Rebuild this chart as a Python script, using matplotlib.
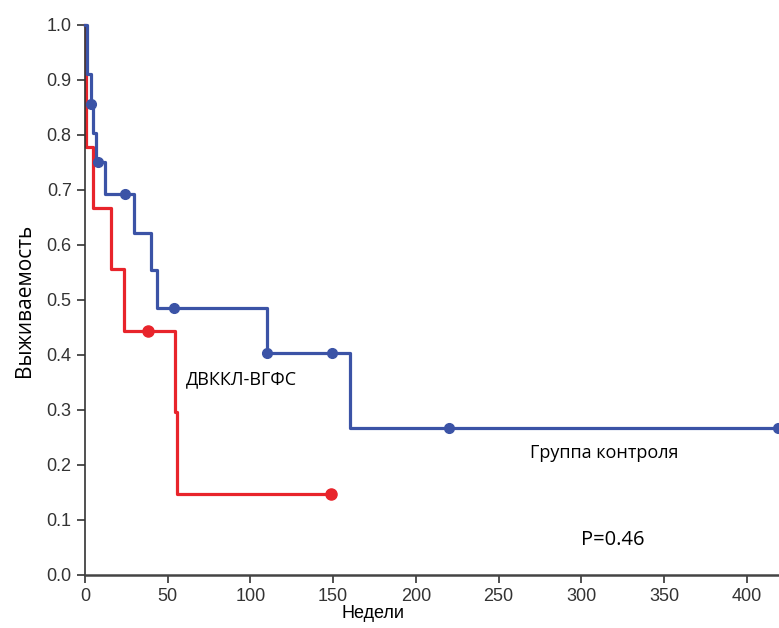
import matplotlib.pyplot as plt

# Kaplan-Meier step curves (weeks, survival)
ctrl_t = [0, 1.4, 3.4, 5, 7, 12, 29.6, 39.7, 43.7, 109.8, 160.5, 420]
ctrl_s = [1.0, 0.911, 0.857, 0.803, 0.750, 0.693, 0.622, 0.554, 0.485, 0.404, 0.268, 0.268]
ctrl_cens_t = [3.4, 8, 24, 54, 110, 149.5, 220, 419]
ctrl_cens_s = [0.857, 0.750, 0.693, 0.485, 0.404, 0.404, 0.268, 0.268]

dv_t = [0, 0.6, 5, 16, 23.6, 54.4, 55.8, 149]
dv_s = [1.0, 0.778, 0.667, 0.556, 0.444, 0.296, 0.148, 0.148]
dv_cens_t = [38, 149]
dv_cens_s = [0.444, 0.148]

xticks = [0, 50, 100, 150, 200, 250, 300, 350, 400]
yticks = [0.0, 0.1, 0.2, 0.3, 0.4, 0.5, 0.6, 0.7, 0.8, 0.9, 1.0]

BLUE = "#3b53a6"
RED = "#e8242b"
TICK_FONT = ["Liberation Sans", "DejaVu Sans"]
LABEL_FONT = ["Open Sans", "DejaVu Sans"]

fig = plt.figure(figsize=(7.79, 6.28), dpi=100)
ax = fig.add_axes([0.109, 0.0844, 0.891, 0.8758])

ax.plot(ctrl_t, ctrl_s, drawstyle="steps-post", color=BLUE, lw=2.3, clip_on=False, zorder=3)
ax.plot(ctrl_cens_t, ctrl_cens_s, "o", color=BLUE, ms=7, clip_on=False, zorder=4)
ax.plot(dv_t, dv_s, drawstyle="steps-post", color=RED, lw=2.3, clip_on=False, zorder=2)
ax.plot(dv_cens_t, dv_cens_s, "o", color=RED, ms=8, clip_on=False, zorder=4)

ax.set_xlim(0, 419.5)
ax.set_ylim(0, 1.0)
ax.set_xticks(xticks)
ax.set_yticks(yticks)
ax.set_xticklabels([str(v) for v in xticks], family=TICK_FONT, fontsize=13, color="#333333")
ax.set_yticklabels([f"{v:.1f}" for v in yticks], family=TICK_FONT, fontsize=13, color="#333333")

for s in ["top", "right"]:
    ax.spines[s].set_visible(False)
ax.spines["left"].set_color("#333333")
ax.spines["left"].set_linewidth(1.2)
ax.spines["bottom"].set_color("#444444")
ax.spines["bottom"].set_linewidth(1.8)
ax.tick_params(axis="both", direction="out", length=6, width=1.2, colors="#333333")

ax.set_xlabel("Недели", family=TICK_FONT, fontsize=13)
ax.xaxis.set_label_coords(0.415, -0.055)
ax.set_ylabel("Выживаемость", family=LABEL_FONT, fontsize=15, labelpad=8)

ax.text(61, 0.355, "ДВККЛ-ВГФС", family=LABEL_FONT, fontsize=13, va="center")
ax.text(269, 0.222, "Группа контроля", family=LABEL_FONT, fontsize=13, va="center")
ax.text(300, 0.064, "P=0.46", family=LABEL_FONT, fontsize=14.5, va="center")

fig.savefig("out.png", dpi=100)
